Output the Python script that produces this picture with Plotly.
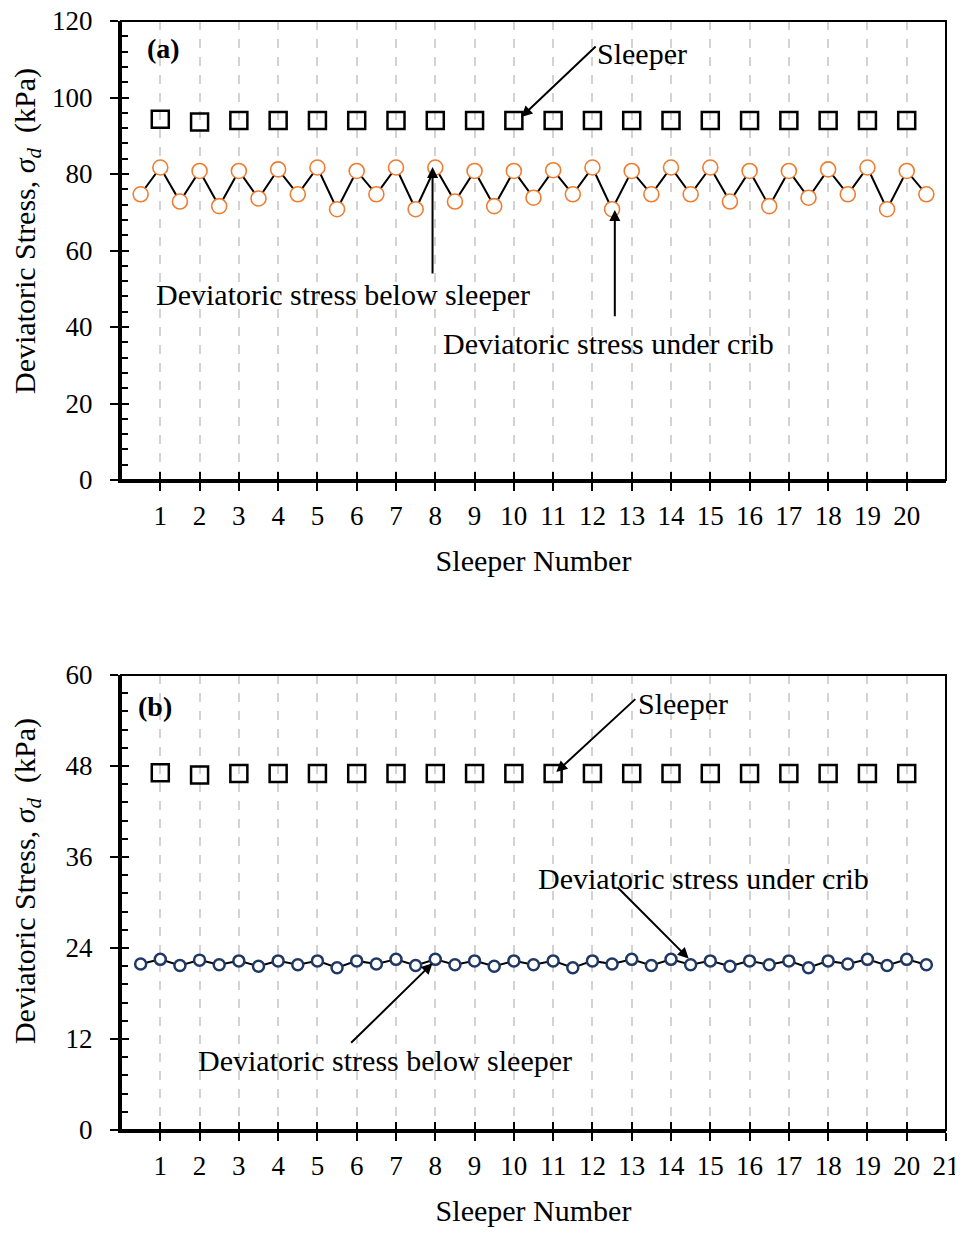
import plotly.graph_objects as go

# ---------------- data ----------------
sleeper_no = list(range(1, 21))
pos_half = [i / 2 for i in range(1, 42)]  # 0.5 ... 20.5

sleeper_a = [94.3, 93.6, 94, 94, 94, 94, 94, 94, 94, 94,
             94, 94, 94, 94, 94, 94, 94, 94, 94, 94]
stress_a = [74.7, 81.7, 72.8, 80.8, 71.6, 80.8, 73.6, 81.2, 74.7, 81.7,
            70.8, 80.8, 74.7, 81.7, 70.8, 81.7, 72.8, 80.8, 71.6, 80.8,
            73.8, 81.0, 74.7, 81.7, 70.8, 80.8, 74.7, 81.7, 74.7, 81.7,
            72.8, 80.8, 71.6, 80.8, 73.8, 81.2, 74.7, 81.7, 70.8, 80.8,
            74.7]

sleeper_b = [47.1, 46.8, 47, 47, 47, 47, 47, 47, 47, 47,
             47, 47, 47, 47, 47, 47, 47, 47, 47, 47]
stress_b = [21.9, 22.5, 21.7, 22.4, 21.8, 22.3, 21.6, 22.3, 21.8, 22.3,
            21.4, 22.3, 21.9, 22.5, 21.7, 22.5, 21.8, 22.3, 21.6, 22.3,
            21.8, 22.3, 21.4, 22.3, 21.9, 22.5, 21.7, 22.5, 21.8, 22.3,
            21.6, 22.3, 21.8, 22.3, 21.4, 22.3, 21.9, 22.5, 21.7, 22.5,
            21.8]

xticks_a = list(range(1, 21))
xticks_b = list(range(1, 22))
yticks_a = [0, 20, 40, 60, 80, 100, 120]
yticks_b = [0, 12, 24, 36, 48, 60]

FONT = "Liberation Serif, Times New Roman, serif"
ORANGE = "#ED7D31"
NAVY = "#203864"

fig = go.Figure()

# panel (a)
fig.add_trace(go.Scatter(x=sleeper_no, y=sleeper_a, mode="markers",
                         marker=dict(symbol="square-open", size=17, color="black",
                                     line=dict(width=2.5, color="black")),
                         xaxis="x", yaxis="y", showlegend=False, hoverinfo="skip"))
fig.add_trace(go.Scatter(x=pos_half, y=stress_a, mode="lines+markers",
                         line=dict(color="black", width=2),
                         marker=dict(symbol="circle", size=15, color="white",
                                     line=dict(width=1.6, color=ORANGE)),
                         xaxis="x", yaxis="y", showlegend=False, hoverinfo="skip"))
# panel (b)
fig.add_trace(go.Scatter(x=sleeper_no, y=sleeper_b, mode="markers",
                         marker=dict(symbol="square-open", size=17, color="black",
                                     line=dict(width=2.5, color="black")),
                         xaxis="x2", yaxis="y2", showlegend=False, hoverinfo="skip"))
fig.add_trace(go.Scatter(x=pos_half, y=stress_b, mode="lines+markers",
                         line=dict(color="black", width=2),
                         marker=dict(symbol="circle", size=11, color="white",
                                     line=dict(width=2.5, color=NAVY)),
                         xaxis="x2", yaxis="y2", showlegend=False, hoverinfo="skip"))
# empty traces to create overlay axes (inside tick halves)
fig.add_trace(go.Scatter(x=[None], y=[None], xaxis="x3", yaxis="y3",
                         showlegend=False, hoverinfo="skip"))
fig.add_trace(go.Scatter(x=[None], y=[None], xaxis="x4", yaxis="y4",
                         showlegend=False, hoverinfo="skip"))

dom_a = [0.5861, 1.0]
dom_b = [0.0, 0.4103]

tickfont = dict(family=FONT, size=27, color="black")
titlefont = dict(family=FONT, size=30, color="black")

def xax(tickvals, anchor):
    return dict(range=[0, 21], tickmode="array", tickvals=tickvals,
                ticks="outside", ticklen=8, tickwidth=2, tickcolor="black",
                showline=True, linewidth=3, linecolor="black",
                showgrid=True, gridcolor="#d3d3d3", griddash="dash", gridwidth=1.5,
                zeroline=False, tickfont=tickfont, anchor=anchor, automargin=False,
                ticklabelstandoff=2, ticklabeloverflow="allow",
                title=dict(text="Sleeper Number", font=titlefont, standoff=20))

def yax(tickvals, rng, domain, anchor):
    return dict(range=rng, domain=domain, tickmode="array", tickvals=tickvals,
                ticks="outside", ticklen=8, tickwidth=2, tickcolor="black",
                showline=True, linewidth=3, linecolor="black",
                showgrid=False, zeroline=False, tickfont=tickfont, anchor=anchor,
                automargin=False, ticklabelstandoff=12, ticklabeloverflow="allow")

def xover(tickvals, overlay, anchor):
    return dict(range=[0, 21], tickmode="array", tickvals=tickvals,
                ticks="inside", ticklen=8, tickwidth=2, tickcolor="black",
                showticklabels=False, showline=False, showgrid=False,
                zeroline=False, overlaying=overlay, anchor=anchor, automargin=False)

def yover(tickvals, rng, overlay, anchor, minor_dtick):
    return dict(range=rng, tickmode="array", tickvals=tickvals,
                ticks="inside", ticklen=8, tickwidth=2, tickcolor="black",
                minor=dict(ticks="inside", ticklen=7, tickwidth=2, tickcolor="black",
                           dtick=minor_dtick, tick0=0),
                showticklabels=False, showline=False, showgrid=False,
                zeroline=False, overlaying=overlay, anchor=anchor, automargin=False)

fig.update_layout(
    width=947, height=1219,
    margin=dict(l=113, r=9, t=13, b=97),
    paper_bgcolor="white", plot_bgcolor="white",
    font=dict(family=FONT, color="black"),
    xaxis=xax(xticks_a, "y"),
    yaxis=yax(yticks_a, [0, 120], dom_a, "x"),
    xaxis2=xax(xticks_b, "y2"),
    yaxis2=yax(yticks_b, [0, 60], dom_b, "x2"),
    xaxis3=xover(xticks_a, "x", "y3"),
    yaxis3=yover(yticks_a, [0, 120], "y", "x3", 4),
    xaxis4=xover(xticks_b, "x2", "y4"),
    yaxis4=yover(yticks_b, [0, 60], "y2", "x4", 2.4),
)

# frames (top/right edges)
for xr, yr in [("x", "y"), ("x2", "y2")]:
    fig.add_shape(type="rect", xref=f"{xr} domain", yref=f"{yr} domain",
                  x0=0, x1=1, y0=0, y1=1, line=dict(color="black", width=2),
                  fillcolor="rgba(0,0,0,0)", layer="above")

# y-axis titles as rotated annotations
ytitle = "Deviatoric Stress, <i>σ<sub>d</sub></i>  (kPa)"
for xr, yr, yc in [("x", "y", 0.5425), ("x2", "y2", 0.547)]:
    fig.add_annotation(x=0, y=yc, xref=f"{xr} domain", yref=f"{yr} domain",
                       xshift=-94, textangle=-90, text=ytitle, showarrow=False,
                       font=titlefont, xanchor="center", yanchor="middle")

annfont = dict(family=FONT, size=30, color="black")

def arrow(xr, yr, x, y, ax, ay):
    fig.add_annotation(x=x, y=y, ax=ax, ay=ay, xref=xr, yref=yr,
                       axref=xr, ayref=yr, text="", showarrow=True,
                       arrowhead=2, arrowsize=1.1, arrowwidth=2, arrowcolor="black")

def label(xr, yr, x, y, text, bold=False, size=30):
    f = dict(annfont)
    f["size"] = size
    fig.add_annotation(x=x, y=y, xref=xr, yref=yr, text=(f"<b>{text}</b>" if bold else text),
                       showarrow=False, font=f)

# panel (a) annotations
label("x", "y", 1.08, 112.9, "(a)", bold=True, size=28)
label("x", "y", 13.27, 111.6, "Sleeper")
arrow("x", "y", 10.19, 94.9, 12.12, 113.7)
label("x", "y", 5.66, 48.6, "Deviatoric stress below sleeper")
arrow("x", "y", 7.93, 81.8, 7.93, 53.6)
label("x", "y", 12.4, 35.8, "Deviatoric stress under crib")
arrow("x", "y", 12.57, 70.6, 12.57, 42.4)

# panel (b) annotations
label("x2", "y2", 0.87, 55.8, "(b)", bold=True, size=28)
label("x2", "y2", 14.31, 56.2, "Sleeper")
arrow("x2", "y2", 11.08, 47.2, 13.13, 57.0)
label("x2", "y2", 14.82, 33.1, "Deviatoric stress under crib")
arrow("x2", "y2", 14.45, 22.6, 12.6, 32.2)
label("x2", "y2", 6.73, 9.2, "Deviatoric stress below sleeper")
arrow("x2", "y2", 7.93, 22.0, 5.82, 11.3)

fig.write_html("out.html")
